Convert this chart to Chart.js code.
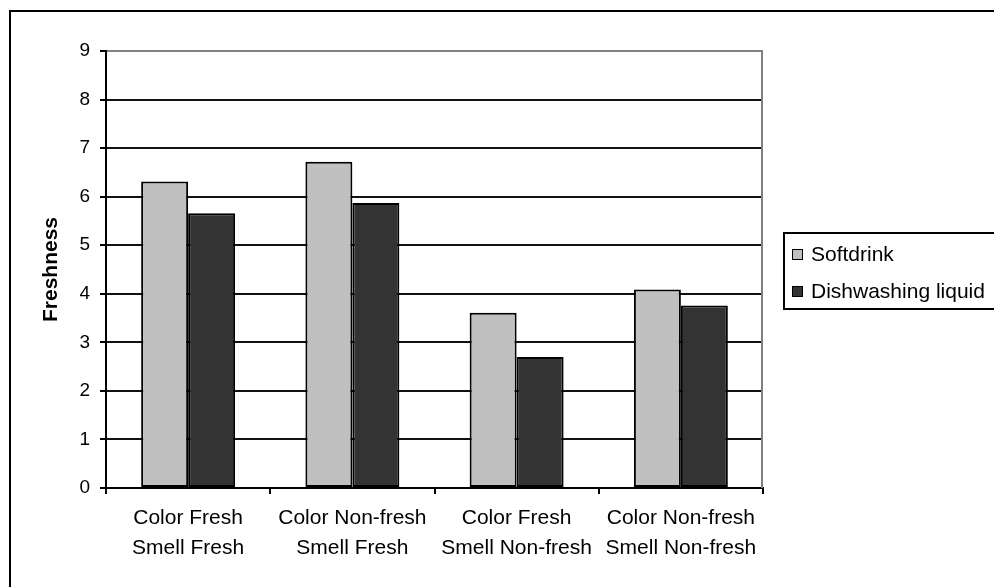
<!DOCTYPE html>
<html>
<head>
<meta charset="utf-8">
<script src="https://cdn.jsdelivr.net/npm/chart.js@4/dist/chart.umd.min.js"></script>
<style>
  html, body { margin: 0; padding: 0; background: #fff; }
  canvas { display: block; }
</style>
</head>
<body>
<canvas id="chart" width="994" height="587"></canvas>
<script>
const categories = [
    ['Color Fresh', 'Smell Fresh'],
    ['Color Non-fresh', 'Smell Fresh'],
    ['Color Fresh', 'Smell Non-fresh'],
    ['Color Non-fresh', 'Smell Non-fresh']
];
const seriesNames = ['Softdrink', 'Dishwashing liquid'];
const softdrink = [6.31, 6.72, 3.61, 4.09];
const dishwashing = [5.66, 5.87, 2.70, 3.76];
const yTicks = [0, 1, 2, 3, 4, 5, 6, 7, 8, 9];

const FONT = '"Liberation Sans", Arial, sans-serif';

function getColor(name) {
    if (name === 'Softdrink') {
        return '#c0c0c0'
    }
    if (name === 'Dishwashing liquid') {
        return '#333333'
    }
}

// outer frame, plot-area edge and the boxed legend (Excel look)
const decorations = {
    id: 'decorations',
    beforeDatasetsDraw(chart) {
        const ctx = chart.ctx;
        const area = chart.chartArea;
        ctx.save();
        ctx.strokeStyle = '#808080';
        ctx.lineWidth = 2;
        ctx.beginPath();
        ctx.moveTo(area.right - 1, area.top);
        ctx.lineTo(area.right - 1, area.bottom);
        ctx.stroke();
        ctx.restore();
    },
    afterDraw(chart) {
        const ctx = chart.ctx;
        ctx.save();
        ctx.strokeStyle = '#000';
        ctx.lineWidth = 2;
        ctx.strokeRect(10, 11, 1000, 600);

        // legend box
        ctx.strokeRect(784, 233, 230, 76);
        ctx.font = '21px ' + FONT;
        ctx.textBaseline = 'middle';
        ctx.fillStyle = '#000';
        chart.data.datasets.forEach((ds, i) => {
            const cy = 254.5 + i * 37;
            ctx.fillStyle = ds.backgroundColor;
            ctx.fillRect(792, cy - 5.5, 11, 11);
            ctx.lineWidth = 1;
            ctx.strokeStyle = '#000';
            ctx.strokeRect(792.5, cy - 5, 10, 10);
            ctx.fillStyle = '#000';
            ctx.fillText(ds.label, 811, cy + 1);
        });
        ctx.restore();
    }
};

const chart = new Chart(document.getElementById('chart').getContext('2d'), {
    type: 'bar',
    data: {
        labels: categories,
        datasets: [
            { label: seriesNames[0], data: softdrink },
            { label: seriesNames[1], data: dishwashing }
        ].map(ds => ({
            ...ds,
            backgroundColor: getColor(ds.label),
            borderColor: '#000',
            borderWidth: 2,
            borderSkipped: false,
            barPercentage: 1.0,
            categoryPercentage: 0.572
        }))
    },
    options: {
        responsive: false,
        devicePixelRatio: 1,
        animation: false,
        layout: { padding: { top: 51, left: 0, right: 231, bottom: 0 } },
        plugins: {
            legend: { display: false },
            tooltip: { enabled: false }
        },
        scales: {
            x: {
                afterFit: scale => { scale.height = 99; },
                grid: {
                    display: true,
                    offset: true,
                    drawOnChartArea: false,
                    drawTicks: true,
                    tickLength: 6,
                    color: '#000',
                    lineWidth: 2
                },
                border: { color: '#000', width: 2 },
                ticks: {
                    color: '#000',
                    padding: 9,
                    maxRotation: 0,
                    autoSkip: false,
                    font: { family: FONT, size: 21, lineHeight: 1.43 }
                }
            },
            y: {
                min: 0,
                max: 9,
                afterFit: scale => { scale.width = 106; },
                afterBuildTicks: scale => { scale.ticks = yTicks.map(v => ({ value: v })); },
                grid: {
                    color: c => (c.tick && c.tick.value === 9) ? '#808080' : '#111',
                    lineWidth: 2,
                    tickColor: '#000',
                    tickLength: 6,
                    tickWidth: 2
                },
                border: { color: '#000', width: 2 },
                ticks: {
                    color: '#000',
                    padding: 10,
                    font: { family: FONT, size: 19 }
                },
                title: {
                    display: true,
                    text: 'Freshness',
                    color: '#000',
                    padding: { top: 39, bottom: 0 },
                    font: { family: FONT, size: 21, weight: 'bold' }
                }
            }
        }
    },
    plugins: [decorations]
});
</script>
</body>
</html>
